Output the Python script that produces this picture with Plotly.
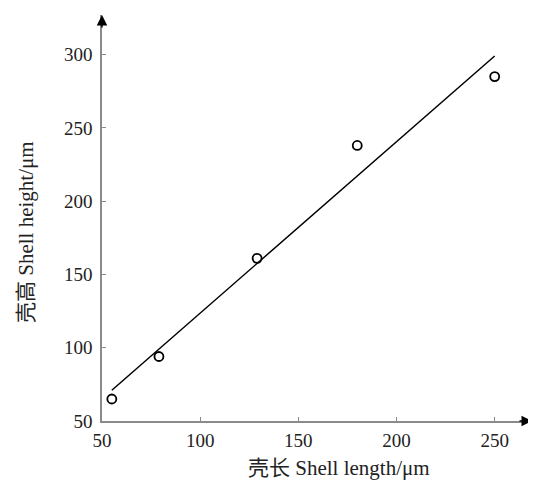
import plotly.graph_objects as go

# Data
shell_length = [55, 79, 129, 180, 250]
shell_height = [65, 94, 161, 238, 285]
fit_x = [55, 250]
fit_y = [71, 299]
x_ticks = [50, 100, 150, 200, 250]
y_ticks = [50, 100, 150, 200, 250, 300]

font_family = "Liberation Serif"
cjk_family = "Noto Sans CJK SC"
axis_color = "#8a8a8a"

fig = go.Figure()
fig.add_trace(go.Scatter(x=fit_x, y=fit_y, mode="lines",
                         line=dict(color="black", width=1.5), showlegend=False))
fig.add_trace(go.Scatter(x=shell_length, y=shell_height, mode="markers",
                         marker=dict(symbol="circle-open", size=9,
                                     color="black", line=dict(width=1.8)),
                         showlegend=False))


def title_text(cjk, latin):
    return (f'<span style="font-family:{cjk_family}">{cjk}</span>'
            f'<span style="font-family:{font_family}"> {latin}</span>')


x_title = title_text("壳长", "Shell length/μm")
y_title = title_text("壳高", "Shell height/μm")

# page body has an 8px default margin, so the figure is sized to compensate
fig.update_layout(
    width=528, height=472,
    margin=dict(l=94, r=4, t=7, b=59, autoexpand=False),
    paper_bgcolor="white", plot_bgcolor="white",
    font=dict(family=font_family, size=16, color="#222"),
    xaxis=dict(range=[50, 269], tickvals=x_ticks, showgrid=False, zeroline=False,
               showline=True, linecolor=axis_color, linewidth=1.5,
               ticks="inside", ticklen=4, tickcolor=axis_color, tickwidth=1,
               automargin=False, ticklabelstandoff=1,
               tickfont=dict(size=19, family=font_family)),
    yaxis=dict(range=[50, 327], tickvals=y_ticks, showgrid=False, zeroline=False,
               showline=True, linecolor=axis_color, linewidth=1.5,
               ticks="inside", ticklen=4, tickcolor=axis_color, tickwidth=1,
               automargin=False, ticklabelstandoff=4,
               tickfont=dict(size=19, family=font_family)),
    annotations=[
        dict(text=x_title, xref="paper", yref="paper",
             x=0.551, y=-0.112, xanchor="center", yanchor="middle",
             showarrow=False, font=dict(size=21, family=font_family, color="#222")),
        dict(text=y_title, xref="paper", yref="paper",
             x=-0.181, y=0.466, xanchor="center", yanchor="middle", textangle=-90,
             showarrow=False, font=dict(size=21, family=font_family, color="#222")),
        dict(text="", xref="paper", yref="paper", x=1.0, y=0, ax=-14, ay=0,
             showarrow=True, arrowhead=2, arrowsize=1.4, arrowwidth=1.5,
             arrowcolor="black"),
        dict(text="", xref="paper", yref="paper", x=0, y=1.0, ax=0, ay=14,
             showarrow=True, arrowhead=2, arrowsize=1.4, arrowwidth=1.5,
             arrowcolor="black"),
    ],
)

fig.write_html("out.html")
